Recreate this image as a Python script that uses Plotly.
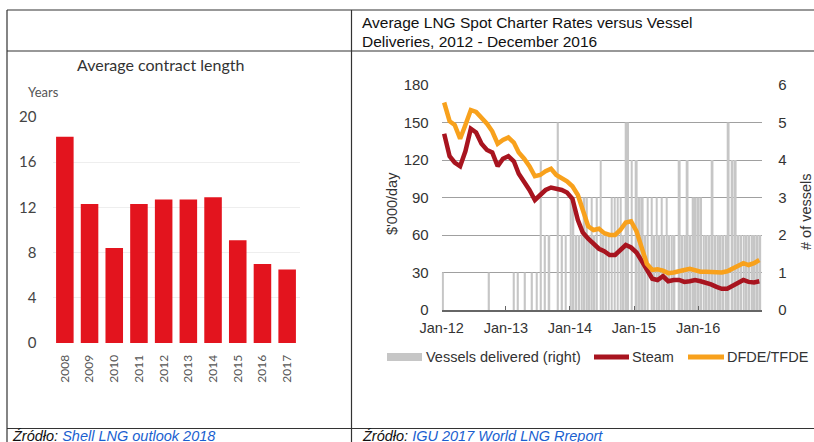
import plotly.graph_objects as go

W, H = 814, 442
def px(x): return x / W
def py(y): return 1 - y / H

# ---------------- Left chart data ----------------
contract_years_labels = ['2008', '2009', '2010', '2011', '2012', '2013', '2014', '2015', '2016', '2017']
contract_length = [18.25, 12.3, 8.4, 12.3, 12.7, 12.7, 12.9, 9.1, 7.0, 6.5]
left_yticks = [0, 4, 8, 12, 16, 20]

# ---------------- Right chart data ----------------
month_dates = [f'{y}-{m:02d}-15' for y in range(2012, 2017) for m in range(1, 13)]
steam = [141, 123, 118, 115, 127, 145, 142, 133, 128, 126, 115, 121,
         123, 119, 109, 103, 96, 88, 92, 96, 98, 97, 96, 94,
         89, 72, 62, 57, 53, 49, 47, 44, 44, 48, 52, 50,
         46, 39, 32, 25, 24, 27, 23, 24, 24, 22.5, 23, 24,
         23, 22, 20.5, 18.5, 17, 17, 19, 22, 24, 22.5, 22, 23]
dfde = [166, 151, 148, 137, 148, 160, 158.5, 154, 149, 143, 133, 136,
        138, 134, 126, 121, 115, 107, 108, 111, 113, 108, 105.5, 103,
        99, 92, 80, 67, 64, 65, 61.5, 60, 60, 64, 70, 71,
        63, 48, 37, 32, 32.5, 31.5, 29.5, 30, 30.7, 32, 33, 31.5,
        30.7, 30.7, 30.7, 30.5, 30, 31, 33.3, 36, 37.5, 36, 37.5, 40]

vessel_dates = ['2012-01-08', '2012-09-26', '2013-02-15', '2013-03-10', '2013-04-19',
                '2013-05-29', '2013-06-26', '2013-07-19', '2013-08-11', '2013-09-05',
                '2013-10-24', '2013-11-16', '2013-12-08', '2014-01-05', '2014-01-20',
                '2014-02-05', '2014-02-22', '2014-03-09', '2014-03-24', '2014-04-07',
                '2014-04-22', '2014-05-05', '2014-05-20', '2014-06-03', '2014-06-25',
                '2014-07-10', '2014-07-25', '2014-08-10', '2014-08-27', '2014-09-13',
                '2014-09-30', '2014-10-17', '2014-11-02', '2014-11-17', '2014-11-28',
                '2014-12-19', '2015-01-16', '2015-02-02', '2015-02-19', '2015-03-06',
                '2015-03-20', '2015-04-12', '2015-04-26', '2015-05-10', '2015-05-25',
                '2015-06-08', '2015-06-22', '2015-07-06', '2015-07-20', '2015-08-04',
                '2015-08-19', '2015-09-18', '2015-10-03', '2015-10-18', '2015-11-02',
                '2015-11-18', '2015-12-03', '2015-12-18', '2016-01-04', '2016-01-18',
                '2016-02-02', '2016-02-18', '2016-03-06', '2016-03-23', '2016-04-08',
                '2016-04-23', '2016-05-08', '2016-05-23', '2016-06-08', '2016-06-23',
                '2016-07-15', '2016-08-02', '2016-08-18', '2016-09-02', '2016-09-17',
                '2016-10-03', '2016-10-18', '2016-11-03', '2016-11-18', '2016-12-05',
                '2016-12-20']
vessel_counts = [1, 1, 1, 1, 1,
                 1, 1, 4, 2, 2,
                 5, 2, 2, 3, 3,
                 2, 2, 2, 3, 3,
                 2, 3, 2, 3, 4,
                 2, 2, 2, 3, 3,
                 3, 3, 2, 5, 5,
                 4, 4, 3, 3, 2,
                 3, 3, 2, 3, 2,
                 3, 2, 3, 2, 2,
                 2, 4, 2, 2, 4,
                 2, 3, 3, 3, 3,
                 2, 2, 2, 4, 2,
                 2, 2, 2, 2, 5,
                 4, 4, 2, 2, 2,
                 2, 2, 2, 2, 2,
                 2]

right_xtick_vals = ['2012-01-01', '2013-01-01', '2014-01-01', '2015-01-01', '2016-01-01']
right_xtick_text = ['Jan-12', 'Jan-13', 'Jan-14', 'Jan-15', 'Jan-16']
rate_ticks = [0, 30, 60, 90, 120, 150, 180]
vessel_ticks = [0, 1, 2, 3, 4, 5, 6]

RED = '#e3141e'
STEAM = '#a8141f'
ORANGE = '#f8a11c'
GREY_BAR = '#c6c6c6'
ARIAL = 'Liberation Sans, Arial, sans-serif'
GEO = 'Lato, sans-serif'

fig = go.Figure()

fig.add_trace(go.Bar(x=contract_years_labels, y=contract_length, marker_color=RED,
                     marker_line_width=0, xaxis='x', yaxis='y'))

fig.add_trace(go.Bar(x=vessel_dates, y=vessel_counts, width=11 * 86400000,
                     marker_color=GREY_BAR, marker_line_width=0, xaxis='x2', yaxis='y2',
                     name='Vessels delivered (right)'))
fig.add_trace(go.Scatter(x=month_dates, y=steam, mode='lines', xaxis='x2', yaxis='y3',
                         line=dict(color=STEAM, width=4.5), name='Steam'))
fig.add_trace(go.Scatter(x=month_dates, y=dfde, mode='lines', xaxis='x2', yaxis='y3',
                         line=dict(color=ORANGE, width=4.5), name='DFDE/TFDE'))

T = 'rgba(0,0,0,0)'
fig.update_layout(
    template='none',
    width=W, height=H, margin=dict(l=0, r=0, t=0, b=0, pad=0), autosize=False,
    paper_bgcolor='white', plot_bgcolor='white', showlegend=False,
    font=dict(family=ARIAL, color='#333'),
    bargap=0.29,
    xaxis=dict(domain=[px(52.5), px(299.5)], anchor='y', type='category', automargin=False,
               tickangle=-90, tickfont=dict(family=GEO, size=12, color='#555'),
               ticks='outside', ticklen=6, tickcolor=T, showline=False, showgrid=False,
               zeroline=False),
    yaxis=dict(domain=[py(343), py(117)], anchor='x', range=[0, 20], tickvals=left_yticks,
               automargin=False, showline=False,
               showgrid=True, gridcolor='#eeeeee', gridwidth=1, zeroline=False,
               ticks='outside', ticklen=12, tickcolor=T,
               tickfont=dict(family=GEO, size=15, color='#444')),
    xaxis2=dict(domain=[px(441.7), px(762.3)], anchor='y2', type='date', automargin=False,
                range=['2012-01-01', '2017-01-01'], tickvals=right_xtick_vals,
                ticktext=right_xtick_text, ticks='inside', ticklen=4, tickcolor='#666',
                ticklabelstandoff=4,
                showline=True, linecolor='#666', linewidth=1.5, showgrid=False,
                zeroline=False, tickfont=dict(size=14.5, color='#333')),
    yaxis2=dict(domain=[py(310), py(85)], anchor='x2', side='right', range=[0, 6],
                automargin=False, showline=False,
                tickvals=vessel_ticks, showgrid=True, gridcolor='#a0a0a0', gridwidth=1.3,
                zeroline=False, ticks='outside', ticklen=12, tickcolor=T,
                tickfont=dict(size=15, color='#333')),
    yaxis3=dict(overlaying='y2', anchor='x2', side='left', range=[0, 180],
                automargin=False, showline=False,
                tickvals=rate_ticks, showgrid=False, zeroline=False,
                ticks='outside', ticklen=9, tickcolor=T,
                tickfont=dict(size=15, color='#333')),
)

shapes = []
LC = '#333333'
for yy in [10, 51, 428.5]:
    shapes.append(dict(type='line', xref='paper', yref='paper', x0=px(7), x1=1,
                       y0=py(yy), y1=py(yy), line=dict(color=LC, width=1.2)))
for xx in [7, 351.5]:
    shapes.append(dict(type='line', xref='paper', yref='paper', x0=px(xx), x1=px(xx),
                       y0=py(10), y1=0, line=dict(color=LC, width=1.2)))
# legend symbols
shapes.append(dict(type='rect', xref='paper', yref='paper', x0=px(387), x1=px(422),
                   y0=py(361), y1=py(353), fillcolor=GREY_BAR, line=dict(width=0)))
shapes.append(dict(type='line', xref='paper', yref='paper', x0=px(594), x1=px(629),
                   y0=py(357), y1=py(357), line=dict(color=STEAM, width=5)))
shapes.append(dict(type='line', xref='paper', yref='paper', x0=px(688), x1=px(724),
                   y0=py(357), y1=py(357), line=dict(color=ORANGE, width=5)))
fig.update_layout(shapes=shapes)

ann = []
def text(x, y, s, size, family=ARIAL, color='#222', xanchor='left', angle=0):
    ann.append(dict(xref='paper', yref='paper', x=px(x), y=py(y), text=s, showarrow=False,
                    xanchor=xanchor, yanchor='middle', textangle=angle,
                    font=dict(size=size, family=family, color=color)))

text(160, 64, 'Average contract length', 16, family=GEO, color='#333', xanchor='center')
text(26, 92, 'Years', 13, family=GEO, color='#555')
text(360, 22, 'Average LNG Spot Charter Rates versus Vessel', 15.5, color='#111')
text(360, 41, 'Deliveries, 2012 - December 2016', 15.5, color='#111')
text(392, 204, "$'000/day", 14.5, color='#333', xanchor='center', angle=-90)
text(806, 212, '# of vessels', 14.5, color='#333', xanchor='center', angle=-90)
text(424, 357, 'Vessels delivered (right)', 14.5, color='#333')
text(630, 357, 'Steam', 14.5, color='#333')
text(725, 357, 'DFDE/TFDE', 14.5, color='#333')
text(10, 436, "<i>Źródło: <span style='color:#1a5fd0'>Shell LNG outlook 2018</span></i>", 14.5, color='#111')
text(360, 436, "<i>Źródło: <span style='color:#1a5fd0'>IGU 2017 World LNG Rreport</span></i>", 14.5, color='#111')
fig.update_layout(annotations=ann)

fig.write_html('out.html')
